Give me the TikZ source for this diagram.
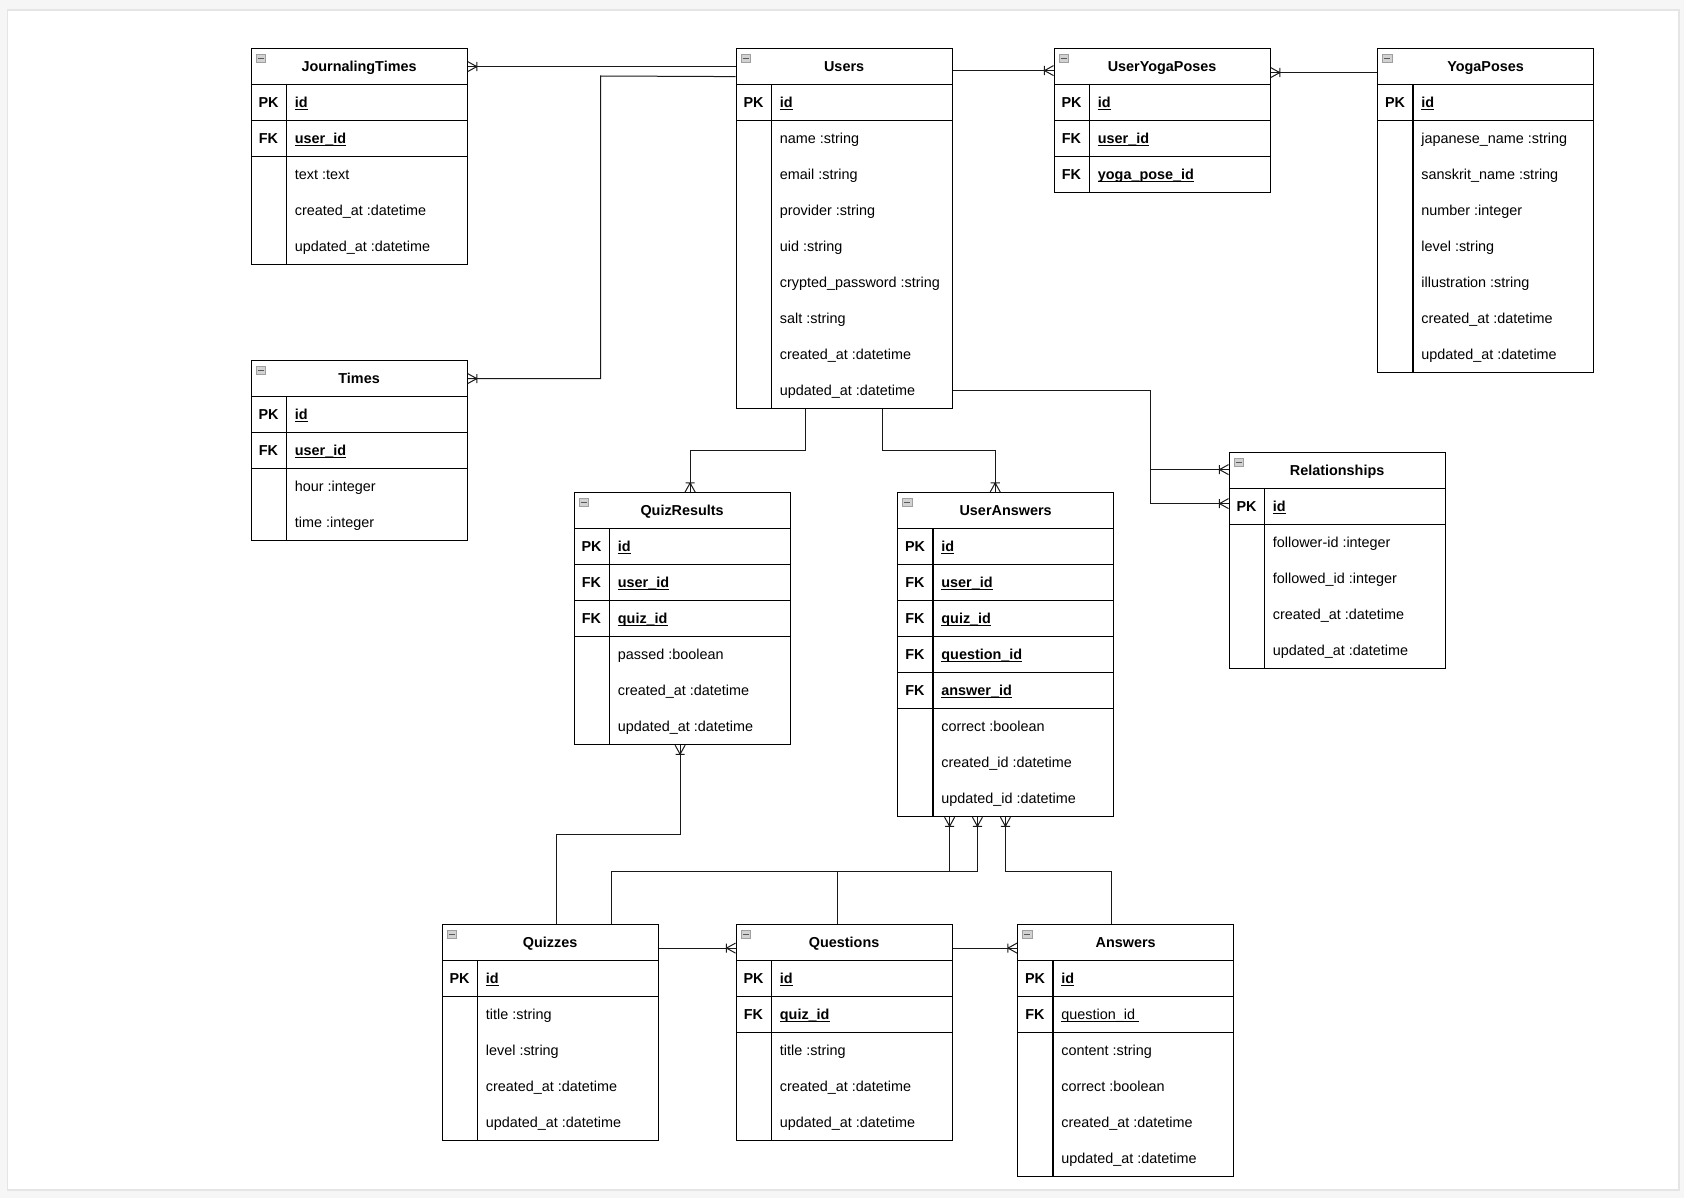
\documentclass[tikz,border=0pt]{standalone}
\usepackage{fontspec}
\setmainfont{Liberation Sans}
\usetikzlibrary{arrows.meta,calc}
\pgfdeclarearrow{
  name = Crow,
  setup code = {
    \pgfarrowssettipend{0pt}
    \pgfarrowssetlineend{0pt}
    \pgfarrowssetbackend{-5pt}
    \pgfarrowsupperhullpoint{0pt}{2.6pt}
    \pgfarrowsupperhullpoint{-5pt}{2.6pt}
  },
  drawing code = {
    \pgfpathmoveto{\pgfqpoint{0pt}{2.5pt}}
    \pgfpathlineto{\pgfqpoint{-4.5pt}{0pt}}
    \pgfpathmoveto{\pgfqpoint{0pt}{-2.5pt}}
    \pgfpathlineto{\pgfqpoint{-4.5pt}{0pt}}
    \pgfpathmoveto{\pgfqpoint{-4.6pt}{2.3pt}}
    \pgfpathlineto{\pgfqpoint{-4.6pt}{-2.3pt}}
    \pgfusepathqstroke
  }
}
\newcommand\erfont{\fontsize{7.2}{8.6}\selectfont}
\newcommand\ulx[1]{\setbox0\hbox{#1}\rlap{\rule[-1.3pt]{\wd0}{0.5pt}}\box0}
\newcommand\Uf[1]{\ulx{\textbf{#1}}}
\tikzset{
  erhead/.style={draw,line width=0.6pt,anchor=north west,minimum width=108pt,minimum height=18pt,inner sep=0pt,font=\erfont\bfseries,text height=6.2pt,text depth=1pt},
  ercell/.style={draw,line width=0.6pt,anchor=north west,minimum width=108pt,minimum height=18pt,inner sep=0pt},
  erline/.style={line width=0.6pt},
  erkey/.style={inner sep=0pt,font=\erfont\bfseries,text height=6.2pt,text depth=1pt},
  ertext/.style={anchor=west,inner sep=0pt,font=\erfont,text height=6.2pt,text depth=1pt},
  ericon/.style={anchor=north west,draw=gray!75,fill=gray!35,line width=0.3pt,minimum width=4.6pt,minimum height=4pt,inner sep=0pt,
    path picture={\draw[black!65,line width=0.55pt] ([xshift=0.8pt]path picture bounding box.west) -- ([xshift=-0.8pt]path picture bounding box.east);}},
  conn/.style={line width=0.5pt,black!90}
}
\newcommand\ErHead[4]{%
  \node[erhead] (#1) at (#2,#3) {#4};
  \node[ericon] (#1-icon) at ({#2+5.3},{#3+6}) {};
}
\newcommand\ErKey[5]{%
  \node[ercell] (#1) at (#2,#3) {};
  \draw[erline] ([xshift=18pt]#1.north west) -- ([xshift=18pt]#1.south west);
  \node[erkey] (#1-k) at ({#2+18},{#3+18}) {#4};
  \node[ertext] (#1-t) at ({#2+44},{#3+18}) {#5};
}
\newcommand\ErAttrs[5]{%
  \node[ercell,minimum height=#4*18pt] (#1) at (#2,#3) {};
  \draw[erline] ([xshift=18pt]#1.north west) -- ([xshift=18pt]#1.south west);
  \foreach \t [count=\i] in {#5} {\node[ertext] (#1-\i) at ({#2+44},{#3+36*\i-18}) {\t};}
}
\begin{document}
\begin{tikzpicture}[x=0.5pt,y=-0.5pt,font=\erfont]
\useasboundingbox (0,0) rectangle (1684,1198);
\fill[gray!7] (0,0) rectangle (1684,1198);
\fill[gray!20] (6.5,9.5) rectangle (1680,1191);
\fill[white] (8,11) rectangle (1678,1189);

% JournalingTimes
\ErHead{jt}{250.5}{48}{JournalingTimes}
\ErKey{jt-1}{250.5}{84}{PK}{\Uf{id}}
\ErKey{jt-2}{250.5}{120}{FK}{\Uf{user\_id}}
\ErAttrs{jt-a}{250.5}{156}{3}{text :text, created\_at :datetime, updated\_at :datetime}

% Users
\ErHead{users}{735.5}{48}{Users}
\ErKey{users-1}{735.5}{84}{PK}{\Uf{id}}
\ErAttrs{users-a}{735.5}{120}{8}{name :string, email :string, provider :string, uid :string, crypted\_password :string, salt :string, created\_at :datetime, updated\_at :datetime}

% UserYogaPoses
\ErHead{uyp}{1053.5}{48}{UserYogaPoses}
\ErKey{uyp-1}{1053.5}{84}{PK}{\Uf{id}}
\ErKey{uyp-2}{1053.5}{120}{FK}{\Uf{user\_id}}
\ErKey{uyp-3}{1053.5}{156}{FK}{\Uf{yoga\_pose\_id}}

% YogaPoses
\ErHead{yoga}{1377}{48}{YogaPoses}
\ErKey{yoga-1}{1377}{84}{PK}{\Uf{id}}
\ErAttrs{yoga-a}{1377}{120}{7}{japanese\_name :string, sanskrit\_name :string, number :integer, level :string, illustration :string, created\_at :datetime, updated\_at :datetime}

% Times
\ErHead{times}{250.5}{360}{Times}
\ErKey{times-1}{250.5}{396}{PK}{\Uf{id}}
\ErKey{times-2}{250.5}{432}{FK}{\Uf{user\_id}}
\ErAttrs{times-a}{250.5}{468}{2}{hour :integer, time :integer}

% QuizResults
\ErHead{qr}{573.5}{492}{QuizResults}
\ErKey{qr-1}{573.5}{528}{PK}{\Uf{id}}
\ErKey{qr-2}{573.5}{564}{FK}{\Uf{user\_id}}
\ErKey{qr-3}{573.5}{600}{FK}{\Uf{quiz\_id}}
\ErAttrs{qr-a}{573.5}{636}{3}{passed :boolean, created\_at :datetime, updated\_at :datetime}

% UserAnswers
\ErHead{ua}{897}{492}{UserAnswers}
\ErKey{ua-1}{897}{528}{PK}{\Uf{id}}
\ErKey{ua-2}{897}{564}{FK}{\Uf{user\_id}}
\ErKey{ua-3}{897}{600}{FK}{\Uf{quiz\_id}}
\ErKey{ua-4}{897}{636}{FK}{\Uf{question\_id}}
\ErKey{ua-5}{897}{672}{FK}{\Uf{answer\_id}}
\ErAttrs{ua-a}{897}{708}{3}{correct :boolean, created\_id :datetime, updated\_id :datetime}

% Relationships
\ErHead{rel}{1228.5}{452}{Relationships}
\ErKey{rel-1}{1228.5}{488}{PK}{\Uf{id}}
\ErAttrs{rel-a}{1228.5}{524}{4}{follower-id :integer, followed\_id :integer, created\_at :datetime, updated\_at :datetime}

% Quizzes
\ErHead{quiz}{441.5}{924}{Quizzes}
\ErKey{quiz-1}{441.5}{960}{PK}{\Uf{id}}
\ErAttrs{quiz-a}{441.5}{996}{4}{title :string, level :string, created\_at :datetime, updated\_at :datetime}

% Questions
\ErHead{qs}{735.5}{924}{Questions}
\ErKey{qs-1}{735.5}{960}{PK}{\Uf{id}}
\ErKey{qs-2}{735.5}{996}{FK}{\Uf{quiz\_id}}
\ErAttrs{qs-a}{735.5}{1032}{3}{title :string, created\_at :datetime, updated\_at :datetime}

% Answers
\ErHead{ans}{1017}{924}{Answers}
\ErKey{ans-1}{1017}{960}{PK}{\Uf{id}}
\ErKey{ans-2}{1017}{996}{FK}{\ulx{question\_id\ }}
\ErAttrs{ans-a}{1017}{1032}{4}{content :string, correct :boolean, created\_at :datetime, updated\_at :datetime}

% connectors
\draw[conn,-Crow] (users.west) -- (jt.east);
\coordinate (ut) at (600.5,76);
\draw[conn,-Crow] ([yshift=-5pt]users.west) -- (ut) |- (times.east);
\draw[conn,-Crow] ([yshift=-2pt]users.east) -- ([yshift=-2pt]uyp.west);
\draw[conn,-Crow] ([yshift=-3pt]yoga.west) -- ([yshift=-3pt]uyp.east);
\coordinate (ur) at (1150.5,390);
\draw[conn,-Crow] (users-a.east |- users-a-8) -- (ur) |- ([yshift=0.5pt]rel.west);
\draw[conn,-Crow] (ur) |- ([yshift=1.5pt]rel-1.west);
\draw[conn,-Crow] ([xshift=35pt]users-a.south west) -- ++(0,41) -| ([xshift=4pt]qr.north);
\draw[conn,-Crow] ([xshift=73.6pt]users-a.south west) -- ++(0,41) -| ([xshift=-5.2pt]ua.north);
\draw[conn,Crow-] ([xshift=-1pt]qr-a.south) -- ++(0,89.5) -| ([xshift=3pt]quiz.north);
\draw[conn,Crow-] ([xshift=26.3pt]ua-a.south west) -- ++(0,54) -| ([xshift=30.5pt]quiz.north);
\draw[conn,Crow-] ([xshift=40.2pt]ua-a.south west) -- ++(0,54) -| ([xshift=-3.5pt]qs.north);
\draw[conn,Crow-] ([xshift=54.2pt]ua-a.south west) -- ++(0,54) -| ([xshift=-7.25pt]ans.north);
\draw[conn,-Crow] ([yshift=-2.75pt]quiz.east) -- ([yshift=-2.75pt]qs.west);
\draw[conn,-Crow] ([yshift=-2.75pt]qs.east) -- ([yshift=-2.75pt]ans.west);
\end{tikzpicture}
\end{document}
